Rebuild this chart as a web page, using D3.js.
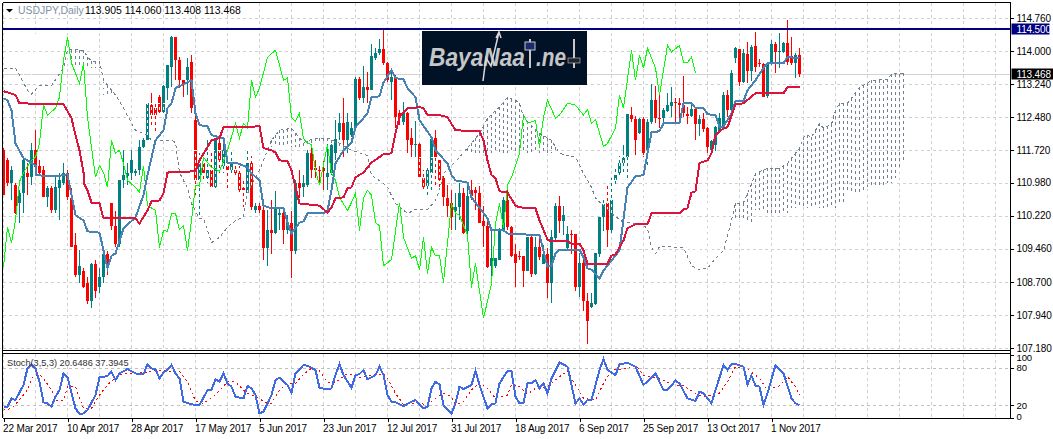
<!DOCTYPE html>
<html><head><meta charset="utf-8">
<script src="https://cdn.jsdelivr.net/npm/d3@7"></script>
<style>
html,body{margin:0;padding:0;background:#fff;overflow:hidden}
svg{display:block}
text{font-family:"Liberation Sans",Arial,sans-serif;font-size:10px;fill:#000}
</style></head><body><div id="chart"></div>
<script>
const priceOpen=[111.72,111.49,110.96,110.92,110.50,110.73,111.19,111.10,111.72,111.37,
111.26,110.64,110.85,110.34,110.85,110.98,111.21,110.62,109.54,108.85,
108.96,108.68,108.27,109.10,108.57,108.80,109.35,110.50,109.99,109.58,
111.03,111.12,111.19,111.19,111.26,111.79,111.95,112.76,112.69,112.94,
112.59,113.15,113.63,114.32,113.79,113.33,113.33,113.74,112.41,111.03,
111.42,111.08,111.26,110.87,111.90,111.37,111.37,111.26,111.26,111.21,
110.85,110.75,111.42,110.34,110.45,110.36,109.47,109.90,109.83,110.23,
110.29,109.88,110.04,109.40,110.96,110.87,110.92,111.67,111.31,111.28,
111.31,111.10,111.21,111.65,112.13,112.34,111.95,112.07,112.23,113.35,
112.92,113.17,113.10,113.84,113.95,114.04,113.72,113.28,113.38,112.57,
112.36,112.57,112.00,111.84,111.86,111.08,110.89,111.19,112.00,111.49,
111.08,110.62,110.50,110.32,110.41,110.73,109.86,110.80,110.80,110.75,
110.09,109.99,109.07,109.07,109.21,109.90,110.57,109.97,109.33,109.30,
109.30,108.96,109.72,108.87,109.49,109.12,109.33,108.68,109.70,110.45,
110.09,109.47,109.81,109.79,108.57,109.14,108.25,108.13,108.20,109.35,
110.18,110.50,109.90,111.03,111.19,111.42,111.56,112.53,112.43,112.11,
112.43,111.72,112.36,112.87,112.46,112.46,112.62,112.73,112.82,112.80,
112.76,112.55,112.50,112.66,112.32,112.43,112.23,111.72,111.84,112.13,
112.23,112.99,112.64,113.84,114.04,113.28,113.93,113.54,114.11,113.72,
113.70,112.96,113.72,114.16,113.97,113.97,114.18,113.88,113.72,113.905];
const priceHigh=[111.77,111.54,111.37,110.96,110.80,111.56,111.44,111.90,112.18,111.49,
111.37,110.89,110.89,111.10,111.21,111.42,111.26,110.85,109.83,109.42,
109.01,108.80,109.14,109.19,109.01,109.42,109.40,110.52,110.32,111.05,
111.72,111.44,111.72,111.30,111.95,112.00,112.80,113.03,112.80,112.99,
113.21,113.67,114.34,114.32,113.86,113.33,113.84,113.90,112.69,111.65,
111.60,111.95,111.72,111.95,112.00,111.88,111.56,111.72,111.37,111.37,
111.03,111.72,111.60,110.52,110.52,110.41,110.36,110.57,110.78,110.39,
110.39,110.23,110.32,111.03,111.26,111.15,111.72,111.84,111.49,111.37,
111.47,111.88,111.88,112.41,112.57,112.92,112.57,112.36,113.40,113.40,
113.65,113.51,114.16,114.07,114.27,114.48,113.74,113.56,113.45,112.64,
112.82,112.59,112.23,112.39,111.88,111.26,111.31,111.97,112.18,111.56,
111.12,110.92,110.80,110.73,110.96,110.85,110.98,111.03,110.87,110.89,
110.45,110.11,109.88,109.24,109.93,110.64,110.94,109.99,109.58,109.40,
109.30,109.74,109.77,109.74,109.70,109.54,109.47,109.88,110.50,110.66,
110.45,109.99,109.90,109.81,109.37,109.26,108.45,108.45,109.37,110.20,
110.64,110.96,111.08,111.37,111.60,111.84,112.55,112.71,112.50,112.46,
112.48,112.43,113.24,113.19,112.99,112.69,113.03,113.17,112.92,112.92,
113.42,112.71,112.76,112.71,112.53,112.57,112.25,111.95,112.27,112.57,
113.05,113.10,113.56,114.09,114.04,114.04,114.20,114.14,114.43,113.81,
113.72,113.74,114.25,114.20,114.41,114.20,114.71,114.32,113.95,114.06];
const priceLow=[110.69,110.89,110.57,110.25,110.06,110.27,110.69,110.92,111.15,111.15,
110.64,110.41,110.29,110.27,110.11,110.92,110.57,109.51,108.80,108.68,
108.55,108.20,108.11,108.32,108.45,108.68,108.85,109.88,109.51,109.51,
110.85,110.92,111.03,111.13,111.15,111.77,111.95,112.30,112.13,112.53,
112.57,112.87,113.17,113.33,113.15,112.94,112.99,112.57,110.69,110.20,
111.03,110.98,110.85,110.85,111.21,111.21,110.85,111.15,111.08,110.69,
110.41,110.75,110.34,110.29,110.29,109.19,109.07,109.35,109.81,109.90,
109.58,109.81,108.78,109.35,110.62,110.64,110.87,111.08,111.08,110.92,
110.80,110.80,111.15,111.49,111.95,111.56,111.67,112.02,112.18,112.87,
112.80,112.80,113.10,113.79,113.90,113.67,113.28,112.87,112.23,112.30,
112.30,111.65,111.54,111.56,111.03,110.80,110.64,110.80,110.92,110.80,
110.45,110.18,109.88,109.88,110.11,109.81,109.81,110.57,110.34,110.04,
109.51,109.01,108.68,109.01,109.19,109.88,109.90,109.26,108.57,109.19,
108.59,108.94,108.80,108.85,109.19,109.12,108.32,108.22,109.65,109.83,
109.77,109.42,109.35,108.48,108.34,108.02,107.28,108.09,108.16,109.26,
109.86,109.51,109.83,110.87,111.15,111.21,111.08,112.36,111.60,112.09,
111.56,111.37,112.32,112.34,112.23,112.34,112.59,112.48,112.36,112.34,
112.48,112.32,112.48,111.95,112.04,112.13,111.65,111.67,111.70,112.13,
112.18,112.48,112.62,113.72,113.19,113.26,113.26,113.31,113.51,113.63,
112.94,112.92,113.67,113.49,113.61,113.95,113.67,113.67,113.38,113.408];
const priceClose=[110.69,110.96,111.26,110.27,110.73,111.49,111.10,111.72,111.33,111.21,
110.64,110.85,110.34,110.87,111.05,111.19,110.64,109.51,108.85,109.07,
108.57,108.27,109.10,108.48,108.80,109.35,109.12,109.99,109.58,111.05,
111.15,111.19,111.49,111.24,111.79,111.95,112.80,112.53,112.53,112.59,
113.19,113.67,114.32,113.79,113.33,113.21,113.63,112.69,111.03,111.42,
111.21,111.26,110.87,111.95,111.49,111.72,111.26,111.42,111.19,110.80,
110.80,111.42,110.41,110.45,110.34,109.47,109.90,109.83,110.39,110.29,
109.88,110.06,109.40,110.96,110.85,110.96,111.67,111.26,111.26,111.24,
111.24,111.21,111.84,111.97,112.34,111.95,112.36,112.23,113.35,112.92,
113.17,113.10,113.88,113.95,114.04,113.72,113.33,113.40,112.48,112.48,
112.57,111.95,111.84,111.86,111.10,110.87,111.26,111.97,111.56,111.03,
110.64,110.45,110.18,110.43,110.73,109.83,110.66,110.66,110.75,110.06,
109.99,109.03,109.24,109.24,109.90,110.57,109.95,109.30,109.14,109.28,
108.96,109.72,108.87,109.49,109.28,109.33,108.68,109.74,110.45,110.09,
110.23,109.81,109.77,108.57,109.14,108.25,107.81,108.22,109.37,110.20,
110.48,109.90,110.57,111.15,111.44,111.54,112.55,112.43,111.95,112.43,
111.67,112.36,112.87,112.46,112.43,112.64,112.76,112.82,112.80,112.76,
112.57,112.50,112.66,112.32,112.43,112.20,111.79,111.93,112.25,112.46,
112.99,112.64,113.49,114.07,113.28,113.95,113.54,114.09,113.63,113.70,
112.94,113.72,114.16,113.97,114.00,114.18,113.74,113.72,113.90,113.468];

const kijunBars=[0,3,4,15,17,18,19,20,20,21,22,24,25,33,34,36,37,39,40,41,48,49,52,54,55,64,65,67,68,69,71,72,73,74,79,81,82,83,85,86,87,88,90,92,95,97,98,99,101,104,105,106,109,111,113,119,120,121,122,123,124,126,128,129,133,134,136,137,141,142,144,145,146,151,152,153,155,156,158,161,162,169,170,171,172,173,174,176,177,178,180,181,183,185,188,195,196,199];
const kijunValues=[113.08,112.99,112.80,112.78,112.46,112.07,111.72,111.21,110.98,110.80,110.52,110.50,110.16,110.16,110.04,110.34,110.55,110.57,110.73,111.21,111.24,111.49,111.95,112.00,112.25,112.27,111.77,111.72,111.67,111.49,111.47,111.26,110.87,110.50,110.45,110.29,110.41,110.62,110.64,110.85,110.87,111.10,111.21,111.44,111.63,111.65,112.11,112.48,112.69,112.71,112.69,112.53,112.53,112.48,112.18,112.16,111.95,111.49,111.15,111.08,110.78,110.75,110.45,110.41,110.39,110.11,109.67,109.63,109.63,109.58,109.58,109.42,109.12,109.12,109.30,109.33,109.65,109.93,110.02,110.02,110.27,110.27,110.36,110.39,110.75,110.78,111.43,111.49,111.65,112.07,112.23,112.25,112.78,112.80,113.03,113.03,113.17,113.17];

const tenkanBars=[0,1,2,3,5,6,8,8,13,16,17,18,20,21,24,25,26,27,28,30,33,35,36,38,40,41,42,43,47,48,49,51,52,54,55,56,58,61,62,64,65,67,70,71,72,74,75,76,80,81,82,83,85,87,88,91,92,94,95,97,98,100,101,103,104,107,108,111,112,113,116,117,121,122,125,126,134,136,137,138,139,144,145,146,147,149,150,154,156,158,160,161,162,164,165,169,170,172,173,175,176,178,179,180,182,183,185,186,188,190,191,195,196,199];
const tenkanValues=[112.92,112.87,112.64,111.88,111.54,111.49,111.37,111.15,111.12,111.17,110.69,110.23,110.11,109.86,109.83,109.42,109.01,109.30,109.35,109.93,110.18,110.69,111.15,111.95,112.18,112.69,112.80,113.15,113.33,112.57,112.30,112.27,112.07,112.02,112.00,111.44,111.44,111.33,111.19,111.03,110.45,110.39,110.39,110.06,109.81,110.06,110.09,110.27,110.27,110.34,110.80,111.42,111.72,111.90,112.25,112.57,112.94,112.96,113.28,113.56,113.38,113.35,113.15,112.94,112.41,112.02,111.72,111.42,111.15,111.03,110.98,110.64,110.16,109.88,109.88,109.81,109.77,109.05,109.07,109.35,109.44,109.44,109.26,109.01,108.98,108.78,108.96,109.42,110.87,111.12,111.15,111.65,112.13,112.16,112.34,112.34,112.80,112.80,112.69,112.69,112.55,112.53,112.25,112.27,112.57,112.85,112.85,113.10,113.33,113.61,113.72,113.72,113.86,113.84];

const chikouBars=[0,1,2,3,4,5,7,8,9,10,11,13,14,15,16,17,19,20,21,22,23,24,25,26,27,28,29,30,31,33,34,35,36,38,39,40,41,42,43,44,45,46,47,48,49,50,52,54,56,58,59,60,61,62,63,64,66,68,70,71,72,73,74,75,76,77,78,79,80,81,82,83,84,86,87,88,89,90,91,92,93,94,95,97,99,100,102,103,104,105,106,107,108,109,110,111,112,113,114,116,117,118,120,122,123,124,125,126,127,129,130,131,133,134,135,136,138,139,141,143,145,146,147,148,150,151,153,154,155,157,158,159,160,161,163,164,166,167,169,170,171,172,173];
const chikouValues=[109.03,109.95,109.60,110.11,111.00,111.21,111.49,111.56,111.88,112.76,112.53,112.69,112.94,113.79,114.32,113.72,113.26,113.72,112.48,111.79,111.10,111.37,111.21,110.87,111.95,111.65,111.72,111.42,111.03,110.87,110.75,111.37,110.45,110.34,109.49,109.88,109.86,110.27,110.27,109.90,109.99,109.42,110.11,110.92,110.90,111.56,111.33,111.24,111.72,112.34,112.00,112.34,112.23,113.33,112.94,113.15,113.86,114.02,113.33,113.38,112.48,112.39,112.57,111.99,111.88,111.86,111.26,110.92,111.40,111.84,111.19,111.03,110.64,110.34,110.52,110.73,109.88,110.62,110.80,110.69,110.06,109.99,109.07,109.21,110.52,109.72,109.24,109.30,108.98,109.72,108.89,109.49,109.30,109.30,108.68,109.60,110.50,110.27,110.23,109.77,108.57,109.12,107.86,108.66,110.04,110.50,109.93,110.92,111.10,111.65,112.53,112.34,112.41,111.79,112.48,112.87,112.46,112.53,112.80,112.76,112.53,112.66,112.34,112.43,111.81,111.88,112.23,112.99,112.69,114.02,113.33,113.90,113.61,114.07,113.61,112.99,114.13,113.98,114.13,113.74,113.74,113.86,113.49];

const spanABars=[0,3,4,6,7,9,12,15,16,20,21,22,24,25,28,30,33,36,37,42,43,44,46,47,49,50,52,54,56,58,60,61,63,64,67,69,72,75,78,81,84,87,91,92,95,96,98,101,103,106,108,109,110,114,115,117,119,121,124,126,128,129,130,134,137,139,143,145,147,148,150,152,155,159,161,162,163,164,170,172,174,176,178,180,182,183,185,186,188,191,194,196,199,200,201,202,204,205,207,208,209,211,212,214,216,217,221,222,225];
const spanAValues=[113.61,113.61,113.45,113.10,113.01,113.21,113.21,113.61,114.04,114.02,113.86,113.77,113.77,113.33,112.99,112.69,112.18,112.07,111.95,111.95,111.90,111.21,110.85,110.50,110.16,110.16,109.60,109.72,109.95,110.11,110.18,110.73,111.10,111.26,111.95,112.18,112.23,111.90,112.00,112.00,111.88,111.72,111.60,111.15,110.96,110.87,110.50,110.27,110.36,110.36,110.57,110.80,111.19,111.56,111.67,111.88,112.11,112.46,112.71,112.94,112.87,112.80,112.48,112.11,111.95,111.65,111.56,111.19,110.87,110.62,110.45,110.27,110.06,110.04,109.93,109.49,109.35,109.51,109.49,109.07,108.98,109.01,109.24,109.42,110.11,110.50,110.52,110.73,111.19,111.31,111.31,111.42,111.77,112.02,112.07,112.02,112.34,112.23,112.32,112.64,112.80,112.80,112.92,113.17,113.26,113.33,113.35,113.47,113.49];

const spanBBars=[0,16,25,35,44,67,78,84,92,114,139,171,182,186,188,191,197,209,211,213,216,221,223,224,225];
const spanBValues=[114.37,113.61,113.00,112.80,111.72,111.79,111.88,111.72,111.56,111.65,111.60,110.50,110.11,110.04,110.34,110.27,110.39,110.50,110.73,110.75,110.87,110.96,111.08,111.26,111.44];

const stochKBars=[0,1,2,3,5,6,7,8,9,10,11,12,13,14,15,16,18,19,20,21,23,24,26,27,28,29,31,33,35,36,37,38,39,40,41,42,43,44,45,47,49,51,52,53,54,55,56,57,58,60,61,62,63,64,65,67,68,69,71,72,73,75,76,78,79,81,82,83,84,85,87,88,89,90,91,93,94,95,96,97,98,100,102,103,105,106,107,108,109,110,112,113,114,115,117,118,119,121,122,123,124,126,127,128,129,130,131,132,133,134,135,136,137,139,141,143,144,145,146,147,149,150,151,153,154,156,158,160,163,165,166,168,169,171,173,174,175,177,178,180,181,182,183,185,186,187,188,189,190,191,193,195,197,198,199];
const stochKValues=[18,18,31.2,28.6,52.5,79,85.4,79,57.8,24.9,23.3,18,33.9,44.5,71,64.7,15.3,6.3,7.3,12.7,36.5,64.7,66.8,73.7,60.4,71,78,71,69.5,85.9,79,78,63,72.7,76.4,84.3,71,63,25.9,21.7,20.6,44.5,44.5,62,57.8,71,55.1,49.8,33.9,31.2,51.4,47.2,36.5,7.3,10,36.5,60.4,64.2,52.5,40.3,71,84.3,83.3,76.4,48.2,45.6,47.2,68.4,85.9,68.4,48,68.4,70,76.4,61.5,68.4,81.7,68.4,36.5,25.9,24.9,19,25.9,28.6,15.3,18,47.2,57.8,53.5,20.6,7.3,23.3,49.8,46.1,52.5,74.8,52.5,15.3,21.7,23.3,55.1,74.8,74.8,33.9,23.3,23.3,55.1,55.1,60.4,47.2,55.1,39.2,63,88.6,81.7,23.3,31.2,21.7,28.6,28.6,76.4,93.9,76.4,68.4,85.4,88,81.7,52.5,71,44.5,44.5,59.4,55.1,31.2,27,41.9,39.2,23.3,44.5,84.3,76.4,85.9,85.9,81.7,53.5,67.3,51.4,49.8,20.6,39.2,84.3,71,31.2,23.3,20.6486];
const stochDBars=[0,2,3,6,7,9,10,12,13,15,16,18,19,20,22,24,26,28,29,33,36,38,41,44,46,48,50,53,56,58,60,61,63,66,67,69,71,73,75,77,79,81,83,86,87,89,93,95,96,98,100,103,106,108,110,112,113,115,117,119,121,123,126,127,129,131,133,136,139,141,143,145,148,150,152,155,158,160,164,167,170,173,175,179,181,183,186,189,191,194,196,198,199];
const stochDValues=[12.6,15.3,21.7,44.5,63,69.5,63,44.5,28.6,28.6,49.8,49.8,31.2,15.3,15.3,36.5,52.5,64.7,69.5,71,72.7,75.3,74.8,74.8,57.8,27,23.3,36.5,57.8,57.8,44.5,39.2,33.9,23.3,23.3,44.5,55.1,55.1,69.5,79,74.8,56.7,56.7,71,68.4,64.7,68.4,71,63,39.2,21.7,23.3,21.7,31.2,39.2,33.9,21.7,25.9,44.5,56.7,47.2,31.2,36.5,53.5,49.8,37.6,47.2,49.8,65.8,74.8,52.5,31.2,28.6,55.1,76.4,78,84.3,68.4,63,53.5,51.4,39.2,33.9,39.2,57.8,81.7,78,63,44.5,51.4,65.8,49.8,37.3945];

const priceTicks=[114.76,114.00,113.24,112.48,111.72,110.98,110.22,109.46,108.70,107.94,107.18];
const stochTicks=[100,80,20,0];
const dateTickBars=[0,16,32,48,64,80,96,112,128,144,160,176,192];
const dateTickLabels=["22 Mar 2017","10 Apr 2017","28 Apr 2017","17 May 2017","5 Jun 2017","23 Jun 2017","12 Jul 2017","31 Jul 2017","18 Aug 2017","6 Sep 2017","25 Sep 2017","13 Oct 2017","1 Nov 2017"];
const levelLine=114.5;
const lastPrice=113.468;

const W=1053,H=439,AX=1010.5;
const svg=d3.select("#chart").append("svg").attr("width",W).attr("height",H);
const x=d3.scaleLinear().domain([0,225]).range([3,903]);
const y=d3.scaleLinear().domain([107.18,114.76]).range([348,18]);
const ys=d3.scaleLinear().domain([0,100]).range([418,355.2]);
const GRID="#d0d0d0";

svg.append("defs").append("clipPath").attr("id","mainClip").append("rect").attr("x",3).attr("y",3).attr("width",AX-3).attr("height",346);

// grid
const g0=svg.append("g").attr("stroke",GRID).attr("stroke-dasharray","3,3").attr("shape-rendering","crispEdges");
const gridBars=d3.range(0,250,8).filter(b=>x(b)<AX);
g0.selectAll("line.m").data(priceTicks).join("line").attr("x1",3).attr("x2",AX).attr("y1",d=>Math.round(y(d))+.5).attr("y2",d=>Math.round(y(d))+.5);
g0.selectAll("line.v").data(gridBars).join("line").attr("x1",d=>x(d)+.5).attr("x2",d=>x(d)+.5).attr("y1",3).attr("y2",349);
g0.selectAll("line.w").data(gridBars).join("line").attr("x1",d=>x(d)+.5).attr("x2",d=>x(d)+.5).attr("y1",354).attr("y2",418);
g0.selectAll("line.s").data([80,20]).join("line").attr("x1",3).attr("x2",AX).attr("stroke","#c0c0c0").attr("y1",d=>Math.round(ys(d))+.5).attr("y2",d=>Math.round(ys(d))+.5);

const main=svg.append("g").attr("clip-path","url(#mainClip)");
// last-price line
main.append("line").attr("x1",3).attr("x2",AX).attr("y1",Math.round(y(lastPrice))+.5).attr("y2",Math.round(y(lastPrice))+.5).attr("stroke","#d3d3d3").attr("shape-rendering","crispEdges");

// candles
const candles=d3.range(priceOpen.length);
const cg=main.append("g").attr("shape-rendering","crispEdges");
const col=i=>priceClose[i]>=priceOpen[i]?"#008080":"#ff0000";
cg.selectAll("line").data(candles).join("line")
 .attr("x1",i=>x(i)+.5).attr("x2",i=>x(i)+.5)
 .attr("y1",i=>y(priceHigh[i])).attr("y2",i=>y(priceLow[i])).attr("stroke",col);
cg.selectAll("rect").data(candles).join("rect")
 .attr("x",i=>x(i)-1).attr("width",3)
 .attr("y",i=>Math.min(y(priceOpen[i]),y(priceClose[i])))
 .attr("height",i=>Math.max(1,Math.abs(y(priceOpen[i])-y(priceClose[i]))))
 .attr("fill",col);

// cloud hatch
const aAt=d3.scaleLinear().domain(spanABars).range(spanAValues);
const bAt=b=>spanBValues[d3.bisectRight(spanBBars,b)-1];
const hatch=main.append("g").attr("shape-rendering","crispEdges").attr("stroke-dasharray","3,3");
hatch.selectAll("line").data(d3.range(0,226)).join("line")
 .attr("x1",b=>x(b)+.5).attr("x2",b=>x(b)+.5)
 .attr("y1",b=>y(aAt(b))).attr("y2",b=>y(bAt(b)))
 .attr("stroke",b=>aAt(b)>bAt(b)?"#708090":"#ffffff");

const mkLine=(bars,vals,sx,sy,curve)=>d3.line().x((d,i)=>sx(bars[i])+.5).y((d,i)=>sy(vals[i])).curve(curve||d3.curveLinear)(vals);
const overlay=main.append("g").attr("fill","none").attr("shape-rendering","crispEdges");
overlay.append("path").attr("d",mkLine(spanBBars,spanBValues,x,y,d3.curveStepAfter)).attr("stroke","#fff").attr("stroke-dasharray","3,3");
overlay.append("path").attr("d",mkLine(chikouBars,chikouValues,x,y)).attr("stroke","#00ff00").attr("stroke-width",1);
overlay.append("path").attr("d",mkLine(spanABars,spanAValues,x,y)).attr("stroke","#708090").attr("stroke-width",1).attr("stroke-dasharray","3,3");
overlay.append("path").attr("d",mkLine(tenkanBars,tenkanValues,x,y)).attr("stroke","#4682b4").attr("stroke-width",2);
overlay.append("path").attr("d",mkLine(kijunBars,kijunValues,x,y)).attr("stroke","#dc143c").attr("stroke-width",2);

// level line
svg.append("line").attr("x1",3).attr("x2",AX).attr("y1",y(levelLine)).attr("y2",y(levelLine)).attr("stroke","#000080").attr("stroke-width",2).attr("shape-rendering","crispEdges");

// stochastic
const sg=svg.append("g").attr("fill","none").attr("shape-rendering","crispEdges");
sg.append("path").attr("d",mkLine(stochDBars,stochDValues,x,ys)).attr("stroke","#ff0000").attr("stroke-dasharray","2,3");
sg.append("path").attr("d",mkLine(stochKBars,stochKValues,x,ys)).attr("stroke","#4169e1").attr("stroke-width",2);

// logo
const logo=svg.append("g");
logo.append("rect").attr("x",422).attr("y",31).attr("width",165).attr("height",54).attr("fill","#011227");
logo.append("text").attr("x",429).attr("y",66).attr("font-style","italic").attr("font-weight","bold").style("font-size","26px").style("fill","#c4c6c8").attr("textLength",96).attr("lengthAdjust","spacingAndGlyphs").text("BayaNaa");
logo.append("text").attr("x",536).attr("y",66).style("font-size","26px").attr("font-style","italic").attr("font-weight","bold").style("fill","#c4c6c8").attr("textLength",30).attr("lengthAdjust","spacingAndGlyphs").text(".ne");
logo.append("path").attr("d","M483,81L486,58L491,66L499,32M496,38L499,32L501,38").attr("fill","none").attr("stroke","#d8d8d8").attr("stroke-width",1.5);
logo.append("line").attr("x1",530).attr("x2",530).attr("y1",39).attr("y2",68).attr("stroke","#c8c8c8").attr("stroke-width",2);
logo.append("rect").attr("x",525).attr("y",42).attr("width",10).attr("height",8).attr("fill","#1a2a6c").attr("stroke","#c8c8c8");
logo.append("line").attr("x1",574).attr("x2",574).attr("y1",39).attr("y2",68).attr("stroke","#c8c8c8").attr("stroke-width",2);
logo.append("rect").attr("x",568).attr("y",58).attr("width",12).attr("height",5).attr("fill","#20242a").attr("stroke","#c8c8c8").attr("stroke-width",.6);

// frames
const fr=svg.append("g").attr("stroke","#000").attr("shape-rendering","crispEdges");
[[2.5,2.5,AX,2.5],[2.5,2.5,2.5,418],[AX,2.5,AX,418],[2.5,350.5,AX,350.5],[2.5,353.5,AX,353.5],[2.5,418.5,AX,418.5]]
 .forEach(l=>fr.append("line").attr("x1",l[0]).attr("y1",l[1]).attr("x2",l[2]).attr("y2",l[3]));

// axes
const styleAxis=g=>{g.select(".domain").remove();g.selectAll(".tick line").attr("stroke","#000").attr("shape-rendering","crispEdges");g.selectAll("text").style("font-size","10px").style("letter-spacing","-0.15px").attr("fill","#000");};
const axR=svg.append("g").attr("transform",`translate(${AX},0)`).call(d3.axisRight(y).tickValues(priceTicks).tickFormat(d3.format(".3f")).tickSize(3).tickPadding(3)).call(styleAxis);
const axS=svg.append("g").attr("transform",`translate(${AX},0)`).call(d3.axisRight(ys).tickValues(stochTicks).tickFormat(d3.format("d")).tickSize(3).tickPadding(3)).call(styleAxis);
axS.selectAll(".tick text").attr("y",d=>d===100?2:d===0?-2:0).style("font-size","9.5px");
const axB=svg.append("g").attr("transform","translate(0.5,418)").call(d3.axisBottom(x).tickValues(dateTickBars).tickFormat((d,i)=>dateTickLabels[i]).tickSize(4).tickPadding(3)).call(styleAxis);
axB.selectAll(".tick text").attr("text-anchor","start").attr("x",-1);

// price boxes
const box=(v,fill,wd)=>{const yy=y(v);
 svg.append("rect").attr("x",AX+1).attr("y",Math.round(yy)-5.5).attr("width",wd).attr("height",11).attr("fill",fill);
 svg.append("text").attr("x",AX+6).attr("y",yy).attr("dy","0.36em").style("fill","#fff").style("letter-spacing","-0.15px").text(v.toFixed(3));};
box(levelLine,"#000080",38);
box(lastPrice,"#000000",42);

// headers
svg.append("path").attr("d",d3.line()([[6,9],[13,9],[9.5,12.5]])+"Z").attr("fill","#000");
svg.append("text").attr("x",18).attr("y",14).style("fill","#7f8fa8").style("font-size","10.4px").text("USDJPY,Daily");
svg.append("text").attr("x",85).attr("y",14).style("font-size","10.4px").text("113.905 114.060 113.408 113.468");
svg.append("text").attr("x",7).attr("y",366).style("fill","#303030").style("font-size","9.2px").text("Stoch(3,5,3) 20.6486 37.3945");
</script></body></html>
